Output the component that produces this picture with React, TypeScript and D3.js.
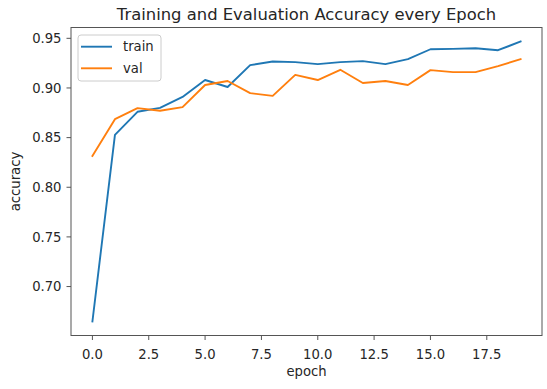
import React from "react";
import * as d3 from "d3";

const epochs = d3.range(20);
const trainAcc = [0.6648, 0.8528, 0.876, 0.880, 0.891, 0.908, 0.901, 0.923, 0.9266, 0.926, 0.924, 0.926, 0.927, 0.924, 0.929, 0.939, 0.9394, 0.940, 0.938, 0.9468];
const valAcc = [0.8316, 0.8686, 0.8797, 0.877, 0.8807, 0.903, 0.907, 0.8948, 0.892, 0.9132, 0.908, 0.9183, 0.905, 0.907, 0.903, 0.918, 0.916, 0.916, 0.922, 0.929];
const xTicks = [0, 2.5, 5, 7.5, 10, 12.5, 15, 17.5];
const yTicks = [0.70, 0.75, 0.80, 0.85, 0.90, 0.95];
const seriesNames = ["train", "val"];
const colors = ["#1f77b4", "#ff7f0e"];

const W = 547, H = 389;
const L = 71, R = 542, T = 27.5, B = 335.5;
const FONT = "DejaVu Sans, sans-serif";
const FS = 13.2;

export default function App() {
  const all = [...trainAcc, ...valAcc];
  const ymin = d3.min(all)!, ymax = d3.max(all)!;
  const yPad = (ymax - ymin) * 0.05;
  const x = d3.scaleLinear().domain([-0.95, 19.95]).range([L, R]);
  const y = d3.scaleLinear().domain([ymin - yPad, ymax + yPad]).range([B, T]);
  const line = d3.line<number>().x((_, i) => x(epochs[i])).y((d) => y(d));
  const series = [trainAcc, valAcc];
  return (
    <svg width={W} height={H} style={{ position: "absolute", left: 0, top: 0, background: "#fff" }} fontFamily={FONT}>
      <rect x={0} y={0} width={W} height={H} fill="#fff" />
      <text x={(L + R) / 2} y={19.5} textAnchor="middle" fontSize={16.4} fill="#262626">
        Training and Evaluation Accuracy every Epoch
      </text>
      {series.map((s, k) => (
        <path key={k} d={line(s)!} fill="none" stroke={colors[k]} strokeWidth={1.9} strokeLinejoin="round" strokeLinecap="square" />
      ))}
      <rect x={L} y={T} width={R - L} height={B - T} fill="none" stroke="#555" strokeWidth={1} />
      {yTicks.map((t) => (
        <g key={t}>
          <line x1={L - 4.5} x2={L} y1={y(t)} y2={y(t)} stroke="#555" strokeWidth={1} />
          <text x={L - 9.5} y={y(t)} dy="0.35em" textAnchor="end" fontSize={FS} fill="#262626">
            {t.toFixed(2)}
          </text>
        </g>
      ))}
      {xTicks.map((t) => (
        <g key={t}>
          <line x1={x(t)} x2={x(t)} y1={B} y2={B + 4.5} stroke="#555" strokeWidth={1} />
          <text x={x(t)} y={B + 23} textAnchor="middle" fontSize={FS} fill="#262626">
            {t.toFixed(1)}
          </text>
        </g>
      ))}
      <text x={(L + R) / 2} y={B + 40.5} textAnchor="middle" fontSize={FS} fill="#262626">epoch</text>
      <text transform={`translate(19.5,${(T + B) / 2}) rotate(-90)`} textAnchor="middle" fontSize={FS} fill="#262626">accuracy</text>
      <g>
        <rect x={78} y={35} width={83} height={46} rx={3} fill="#fff" fillOpacity={0.8} stroke="#ccc" strokeWidth={1} />
        {seriesNames.map((n, k) => (
          <g key={n}>
            <line x1={81} x2={112} y1={46.7 + k * 21.6} y2={46.7 + k * 21.6} stroke={colors[k]} strokeWidth={1.9} />
            <text x={123} y={46.7 + k * 21.6} dy="0.35em" fontSize={FS} fill="#262626">{n}</text>
          </g>
        ))}
      </g>
    </svg>
  );
}
